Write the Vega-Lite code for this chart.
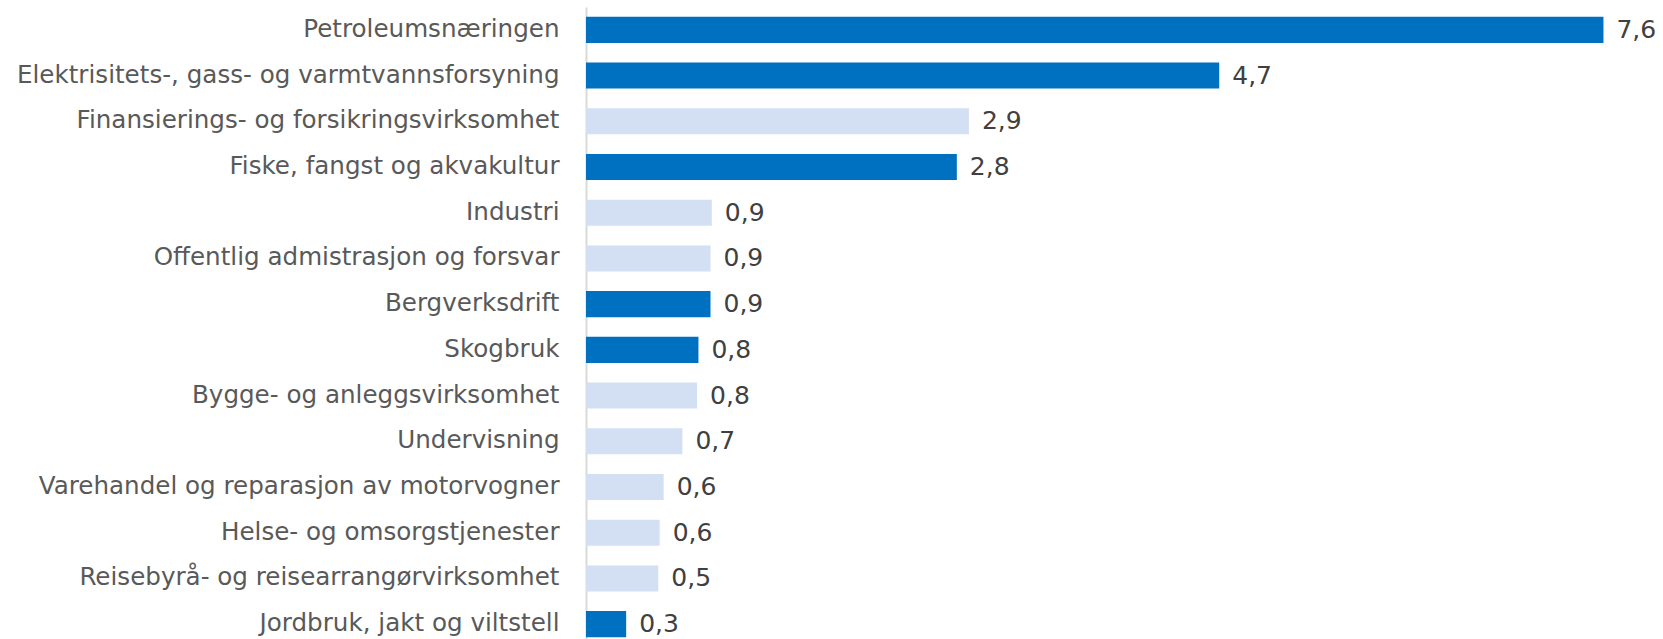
{
  "$schema": "https://vega.github.io/schema/vega-lite/v6.json",
  "autosize": {"type": "none"},
  "width": 1071,
  "height": 640,
  "padding": {"left": 586, "top": 7, "right": 6, "bottom": 0},
  "background": "white",
  "config": {
    "view": {"stroke": null},
    "locale": {"number": {"decimal": ",", "thousands": " ", "grouping": [3], "currency": ["", " kr"]}},
    "font": "DejaVu Sans"
  },
  "data": {
    "values": [
      {"naering": "Petroleumsnæringen", "verdi": 7.6, "gruppe": "A"},
      {"naering": "Elektrisitets-, gass- og varmtvannsforsyning", "verdi": 4.73, "gruppe": "A"},
      {"naering": "Finansierings- og forsikringsvirksomhet", "verdi": 2.86, "gruppe": "B"},
      {"naering": "Fiske, fangst og akvakultur", "verdi": 2.77, "gruppe": "A"},
      {"naering": "Industri", "verdi": 0.94, "gruppe": "B"},
      {"naering": "Offentlig admistrasjon og forsvar", "verdi": 0.93, "gruppe": "B"},
      {"naering": "Bergverksdrift", "verdi": 0.93, "gruppe": "A"},
      {"naering": "Skogbruk", "verdi": 0.84, "gruppe": "A"},
      {"naering": "Bygge- og anleggsvirksomhet", "verdi": 0.83, "gruppe": "B"},
      {"naering": "Undervisning", "verdi": 0.72, "gruppe": "B"},
      {"naering": "Varehandel og reparasjon av motorvogner", "verdi": 0.58, "gruppe": "B"},
      {"naering": "Helse- og omsorgstjenester", "verdi": 0.55, "gruppe": "B"},
      {"naering": "Reisebyrå- og reisearrangørvirksomhet", "verdi": 0.54, "gruppe": "B"},
      {"naering": "Jordbruk, jakt og viltstell", "verdi": 0.3, "gruppe": "A"}
    ]
  },
  "encoding": {
    "y": {
      "field": "naering", "type": "nominal", "sort": null,
      "scale": {"paddingInner": 0.43, "paddingOuter": 0.215},
      "axis": {"title": null, "ticks": false, "labelPadding": 27, "labelFontSize": 24.6, "labelColor": "#595959", "labelLimit": 700, "domainColor": "#D9D9D9", "domainWidth": 2, "grid": false}
    },
    "x": {
      "field": "verdi", "type": "quantitative",
      "scale": {"domain": [0, 8], "nice": false},
      "axis": null
    }
  },
  "layer": [
    {
      "mark": {"type": "bar"},
      "encoding": {
        "color": {"field": "gruppe", "type": "nominal", "scale": {"domain": ["A", "B"], "range": ["#0070C0", "#D3DFF2"]}, "legend": null}
      }
    },
    {
      "mark": {"type": "text", "align": "left", "baseline": "middle", "dx": 13, "fontSize": 25, "color": "#404040"},
      "encoding": {
        "text": {"field": "verdi", "type": "quantitative", "format": ".1f"}
      }
    }
  ]
}
